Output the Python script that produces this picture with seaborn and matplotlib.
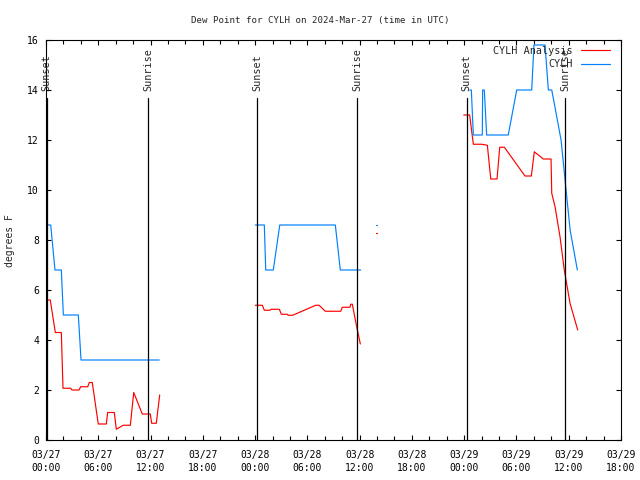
import numpy as np
import pandas as pd
import matplotlib
matplotlib.use("Agg")
import matplotlib.pyplot as plt
import matplotlib.dates as mdates
from matplotlib.transforms import blended_transform_factory
import seaborn as sns

# ---------------- data (hours after 2024-03-27 00:00 UTC, degrees F) ----------------
base = pd.Timestamp("2024-03-27 00:00")

obs_seg1_h = [0.11, 0.54, 1.03, 1.76, 1.99, 3.71, 4.02, 13.0]
obs_seg1_v = [8.6, 8.6, 6.8, 6.8, 5.0, 5.0, 3.2, 3.2]
obs_seg2_h = [24.02, 25.06, 25.22, 26.09, 26.83, 33.21, 33.78, 36.12]
obs_seg2_v = [8.6, 8.6, 6.8, 6.8, 8.6, 8.6, 6.8, 6.8]
obs_dot_h = [37.86, 37.98]
obs_dot_v = [8.6, 8.6]
obs_seg3_h = [48.63, 48.82, 49.05, 50.08, 50.12, 50.31, 50.58, 53.06, 54.03, 55.75,
              56.01, 57.28, 57.66, 58.05, 58.43, 59.12, 59.58, 60.16, 60.99]
obs_seg3_v = [14.0, 14.0, 12.2, 12.2, 14.0, 14.0, 12.2, 12.2, 14.0, 14.0,
              15.8, 15.8, 14.0, 14.0, 13.3, 12.0, 10.4, 8.4, 6.8]

ana_seg1_h = [0.15, 0.49, 1.07, 1.76, 1.95, 2.84, 2.98, 3.79, 3.98, 4.79, 4.97, 5.31, 6.0,
              6.92, 7.08, 7.84, 8.07, 8.87, 9.68, 10.07, 11.05, 11.97, 12.13, 12.66, 13.05]
ana_seg1_v = [5.6, 5.6, 4.3, 4.3, 2.07, 2.07, 2.0, 2.0, 2.13, 2.13, 2.3, 2.3, 0.64,
              0.64, 1.1, 1.1, 0.43, 0.59, 0.59, 1.9, 1.04, 1.04, 0.67, 0.67, 1.8]
ana_seg2_h = [24.02, 24.83, 25.06, 25.71, 25.83, 26.78, 27.01, 27.7, 27.78, 28.32,
              30.96, 31.34, 32.06, 33.83, 34.01, 34.89, 34.97, 35.16, 35.66, 36.08]
ana_seg2_v = [5.39, 5.39, 5.19, 5.19, 5.23, 5.23, 5.03, 5.03, 4.99, 4.99,
              5.39, 5.39, 5.15, 5.15, 5.31, 5.31, 5.43, 5.43, 4.53, 3.84]
ana_dot_h = [37.86, 37.98]
ana_dot_v = [8.27, 8.27]
ana_seg3_h = [47.95, 48.63, 49.05, 50.01, 50.66, 51.05, 51.77, 52.08, 52.61, 54.98,
              55.71, 56.05, 57.08, 57.97, 58.05, 58.43, 59.0, 59.49, 60.15, 61.03]
ana_seg3_v = [13.0, 13.0, 11.83, 11.83, 11.79, 10.44, 10.44, 11.71, 11.71, 10.56,
              10.56, 11.53, 11.24, 11.24, 9.87, 9.33, 8.13, 6.8, 5.47, 4.4]

sunset_h = [0.08, 24.25, 48.29]
sunrise_h = [11.74, 35.73, 59.57]

series_names = ["CYLH Analysis", "CYLH"]
series_colors = ["#ff0000", "#0080ff"]
title = "Dew Point for CYLH on 2024-Mar-27 (time in UTC)"
ylabel = "degrees F"
ytick_vals = [0, 2, 4, 6, 8, 10, 12, 14, 16]

# ---------------- build table ----------------
rows = []
def add(name, seg, hrs, vals):
    for h, v in zip(hrs, vals):
        rows.append({"time": base + pd.to_timedelta(h, unit="h"), "value": v,
                     "series": name, "seg": f"{name}-{seg}"})

add("CYLH Analysis", 1, ana_seg1_h, ana_seg1_v)
add("CYLH Analysis", 2, ana_seg2_h, ana_seg2_v)
add("CYLH Analysis", 3, ana_dot_h, ana_dot_v)
add("CYLH Analysis", 4, ana_seg3_h, ana_seg3_v)
add("CYLH", 1, obs_seg1_h, obs_seg1_v)
add("CYLH", 2, obs_seg2_h, obs_seg2_v)
add("CYLH", 3, obs_dot_h, obs_dot_v)
add("CYLH", 4, obs_seg3_h, obs_seg3_v)
df = pd.DataFrame(rows)

# ---------------- plot ----------------
sns.set_style("ticks")
plt.rcParams["font.family"] = ["DejaVu Sans Mono"]
plt.rcParams["font.size"] = 7

fig = plt.figure(figsize=(6.4, 4.8), dpi=100)
ax = fig.add_axes([46 / 640, 40 / 480, 575 / 640, 400 / 480])

sns.lineplot(data=df, x="time", y="value", hue="series", units="seg", estimator=None,
             hue_order=series_names, palette=dict(zip(series_names, series_colors)),
             linewidth=0.85, sort=False, ax=ax, legend=True, zorder=2)

trans = blended_transform_factory(ax.transData, ax.transAxes)
for lbl, hrs in (("Sunset", sunset_h), ("Sunrise", sunrise_h)):
    for h in hrs:
        t = mdates.date2num(base + pd.to_timedelta(h, unit="h"))
        ax.axvline(t, ymin=0, ymax=(440 - 98) / 400, color="black", lw=0.9, zorder=3)
        ax.text(t, (440 - 91) / 400, lbl, rotation=90, ha="center", va="bottom",
                transform=trans, fontsize=7.3, zorder=4)

ax.set_xlim(mdates.date2num(base), mdates.date2num(base + pd.Timedelta(hours=66)))
ax.set_ylim(0, 16)
ax.set_yticks(ytick_vals)
ax.xaxis.set_major_locator(mdates.HourLocator(byhour=[0, 6, 12, 18]))
ax.xaxis.set_minor_locator(mdates.HourLocator(interval=2))
ax.xaxis.set_major_formatter(mdates.DateFormatter("%m/%d\n%H:%M"))
for lab in ax.get_xticklabels():
    lab.set_linespacing(1.3)
ax.tick_params(which="both", direction="in", top=True, right=True, width=0.8,
               colors="black", labelsize=7)
ax.tick_params(which="major", length=3.5)
ax.tick_params(which="minor", length=3.0)
ax.tick_params(axis="x", which="major", pad=7.5)
ax.tick_params(axis="y", which="major", pad=5)
for s in ax.spines.values():
    s.set_visible(True)
    s.set_linewidth(0.8)
    s.set_color("black")
ax.grid(False)
ax.set_xlabel("")
ax.set_ylabel("")

handles, labels = ax.get_legend_handles_labels()
leg = ax.legend(handles, labels, loc="upper right", frameon=False, markerfirst=False,
                bbox_to_anchor=(1 - 11 / 575, 1 - 6 / 400),
                handlelength=2.9, handletextpad=0.8, labelspacing=0.33,
                borderaxespad=0.0, borderpad=0.0, fontsize=7.3)
for ln in leg.get_lines():
    ln.set_linewidth(0.85)

fig.text(0.5, 1 - 20 / 480, title, ha="center", va="center", fontsize=6.6)
fig.text(10 / 640, 1 - 241 / 480, ylabel, ha="center", va="center", rotation=90, fontsize=7)

fig.savefig("out.png", dpi=100)
